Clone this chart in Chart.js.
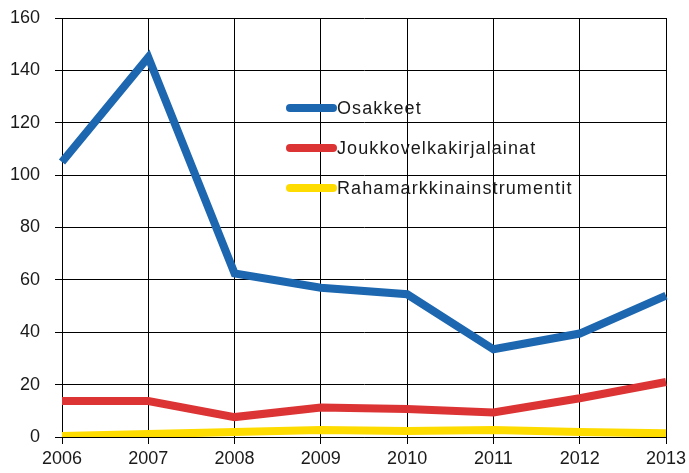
<!DOCTYPE html>
<html>
<head>
<meta charset="utf-8">
<script src="https://cdn.jsdelivr.net/npm/chart.js@4"></script>
<style>
  html, body { margin: 0; padding: 0; background: #fff; }
  #wrap { width: 689px; height: 473px; }
</style>
</head>
<body>
<div id="wrap"><canvas id="chart" width="689" height="473"></canvas></div>
<script>
// Data
const years = ['2006', '2007', '2008', '2009', '2010', '2011', '2012', '2013'];
const osakkeet = [105, 145, 62.5, 57, 54.5, 33.5, 39.5, 54];
const joukkovelkakirjalainat = [13.7, 13.7, 7.6, 11.3, 10.7, 9.4, 14.8, 21];
const rahamarkkina = [0.4, 1.1, 1.9, 2.7, 2.3, 2.7, 1.9, 1.4];
const yTicks = [0, 20, 40, 60, 80, 100, 120, 140, 160];

const seriesNames = ['Osakkeet', 'Joukkovelkakirjalainat', 'Rahamarkkinainstrumentit'];
const seriesColors = ['#1c67b0', '#dc3434', '#ffdc00'];

// legend drawn inside the plot area
const insideLegend = {
    id: 'insideLegend',
    afterDraw(chart) {
        const ctx = chart.ctx;
        const x0 = 290, x1 = 333, top = 108, gap = 40;
        ctx.save();
        ctx.font = '18px "Liberation Sans", Arial, sans-serif';
        ctx.letterSpacing = '1.1px';
        ctx.textBaseline = 'middle';
        chart.data.datasets.forEach((ds, i) => {
            const y = top + i * gap;
            ctx.strokeStyle = ds.borderColor;
            ctx.lineWidth = 8;
            ctx.lineCap = 'round';
            ctx.beginPath();
            ctx.moveTo(x0, y);
            ctx.lineTo(x1, y);
            ctx.stroke();
            ctx.fillStyle = '#1a1a1a';
            ctx.fillText(ds.label, x1 + 4, y + 1);
        });
        ctx.restore();
    }
};

const ctx = document.getElementById('chart').getContext('2d');
new Chart(ctx, {
    type: 'line',
    data: {
        labels: years,
        datasets: [osakkeet, joukkovelkakirjalainat, rahamarkkina].map((d, i) => ({
            label: seriesNames[i],
            data: d,
            borderColor: seriesColors[i],
            backgroundColor: seriesColors[i],
            borderWidth: 8,
            borderCapStyle: 'butt',
            borderJoinStyle: 'miter',
            pointRadius: 0,
            tension: 0,
            fill: false,
            order: i
        }))
    },
    options: {
        responsive: false,
        animation: false,
        layout: { padding: { top: 18, right: 23, left: 0, bottom: 0 } },
        plugins: {
            legend: { display: false },
            tooltip: { enabled: false }
        },
        scales: {
            x: {
                offset: false,
                grid: { color: '#000', lineWidth: 1, tickLength: 7, drawTicks: true },
                border: { color: '#000', width: 1 },
                ticks: {
                    color: '#1a1a1a',
                    padding: 4,
                    maxRotation: 0,
                    font: { family: '"Liberation Sans", Arial, sans-serif', size: 18 }
                },
                afterFit(scale) {
                    scale.height = 36;
                    scale.paddingLeft = 0;
                    scale.paddingRight = 0;
                }
            },
            y: {
                min: 0,
                max: 160,
                afterBuildTicks(scale) { scale.ticks = yTicks.map(v => ({ value: v })); },
                grid: { color: '#000', lineWidth: 1, tickLength: 7 },
                border: { color: '#000', width: 1 },
                ticks: {
                    color: '#1a1a1a',
                    padding: 15,
                    font: { family: '"Liberation Sans", Arial, sans-serif', size: 18 }
                },
                afterFit(scale) {
                    scale.width = 62;
                    scale.paddingTop = 0;
                    scale.paddingBottom = 0;
                }
            }
        }
    },
    plugins: [insideLegend]
});
</script>
</body>
</html>
